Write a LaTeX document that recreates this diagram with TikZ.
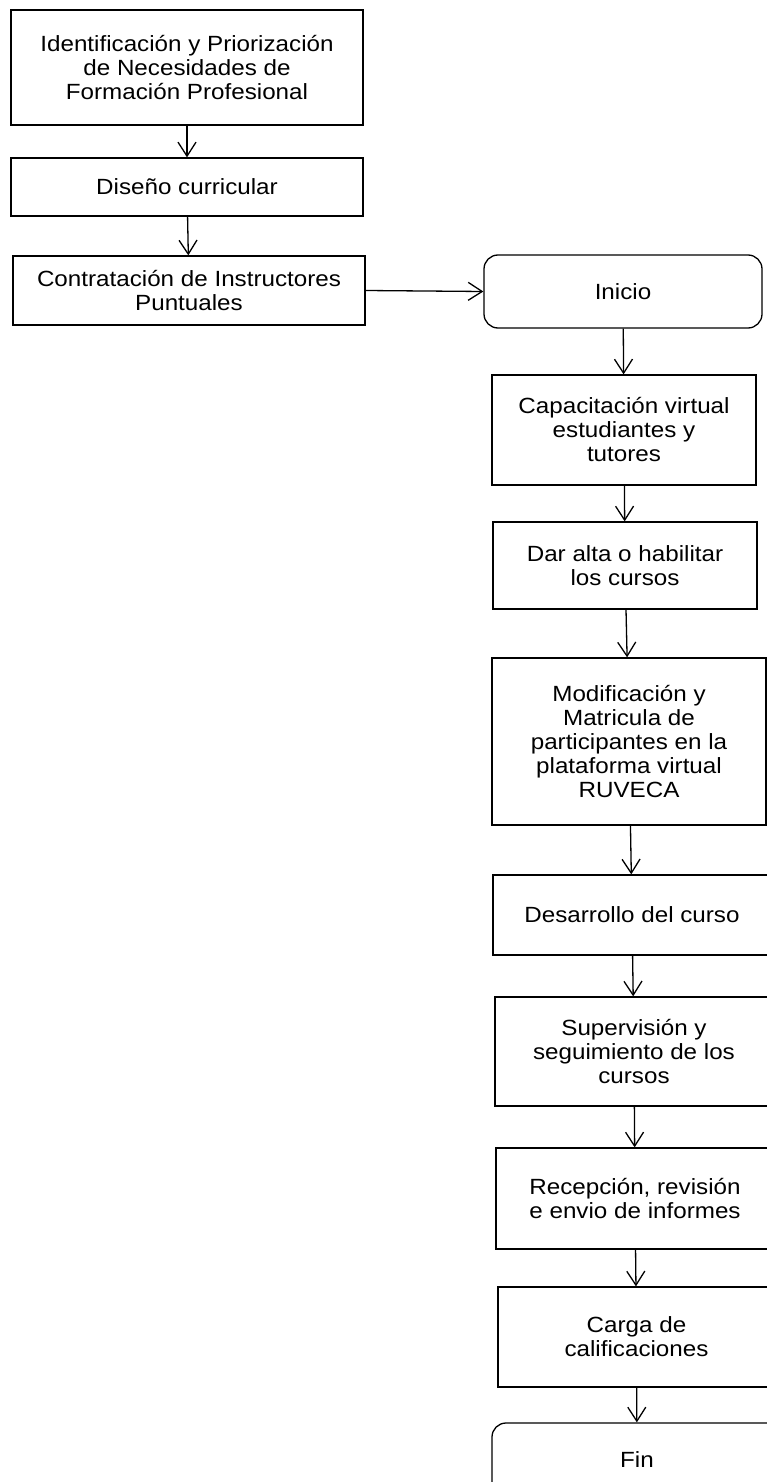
\documentclass[tikz,border=0pt]{standalone}
\usepackage{fontspec}
\setmainfont[FakeStretch=1.1]{Liberation Sans}
\usetikzlibrary{arrows.meta}
\begin{document}
\begin{tikzpicture}[x=1pt,y=-1pt,
  box/.style={draw=black, line width=1.3pt, fill=white, align=center, inner sep=0pt,
    font=\fontsize{22}{24}\selectfont},
  term/.style={box, rounded corners=14pt},
  conn/.style={draw=black, line width=1.3pt, -{Straight Barb[length=14pt,width=18pt,line width=1.3pt]}}]
\useasboundingbox (0,0) rectangle (767,1482);
\clip (0,0) rectangle (767,1482);
\fill[white] (0,0) rectangle (767,1482);
\node[box, minimum width=352pt, minimum height=115pt] (n1) at (187,67.5) {Identificación y Priorización\\de Necesidades de\\Formación Profesional};
\node[box, minimum width=352pt, minimum height=58pt] (n2) at (187,187) {Diseño curricular};
\node[box, minimum width=352pt, minimum height=69pt] (n3) at (189,290.5) {Contratación de Instructores\\Puntuales};
\node[term, minimum width=278pt, minimum height=73pt] (ini) at (623,291.5) {Inicio};
\node[box, minimum width=264pt, minimum height=110pt] (cap) at (624,430) {Capacitación virtual\\estudiantes y\\tutores};
\node[box, minimum width=264pt, minimum height=87pt] (dar) at (625,565.5) {Dar alta o habilitar\\los cursos};
\node[box, minimum width=274pt, minimum height=167pt] (mod) at (629,741.5) {Modificación y\\Matricula de\\participantes en la\\plataforma virtual\\RUVECA};
\node[box, minimum width=278pt, minimum height=80pt] (des) at (632,915) {Desarrollo del curso};
\node[box, minimum width=278pt, minimum height=109pt] (sup) at (634,1051.5) {Supervisión y\\seguimiento de los\\cursos};
\node[box, minimum width=278pt, minimum height=101pt] (rec) at (635,1198.5) {Recepción, revisión\\e envio de informes};
\node[box, minimum width=277pt, minimum height=100pt] (car) at (636.5,1337) {Carga de\\calificaciones};
\node[term, minimum width=290pt, minimum height=73pt] (fin) at (637,1459.5) {Fin};
\draw[conn] (n1) -- (n2);
\draw[conn] (n2) -- (n3);
\draw[conn] (n3.east) -- (ini.west);
\draw[conn] (ini) -- (cap);
\draw[conn] (cap) -- (dar);
\draw[conn] (dar) -- (mod);
\draw[conn] (mod) -- (des);
\draw[conn] (des) -- (sup);
\draw[conn] (sup) -- (rec);
\draw[conn] (rec) -- (car);
\draw[conn] (car) -- (fin);
\end{tikzpicture}
\end{document}
